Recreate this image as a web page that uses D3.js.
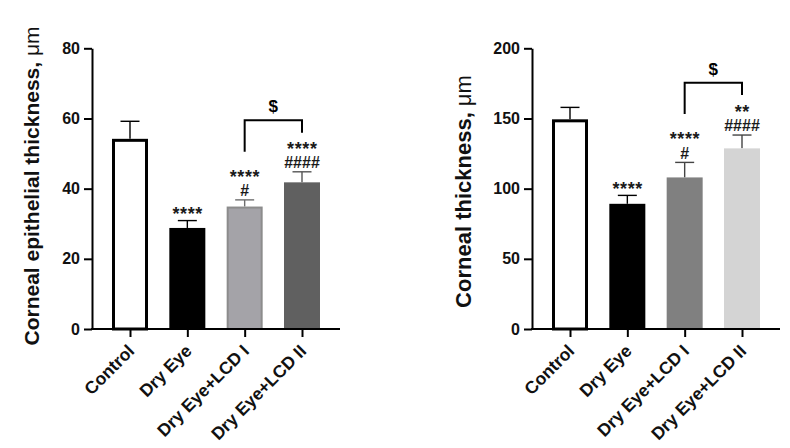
<!DOCTYPE html>
<html><head><meta charset="utf-8">
<script src="https://cdn.jsdelivr.net/npm/d3@7/dist/d3.min.js"></script>
<style>
html,body{margin:0;padding:0;background:#fff;}
svg{display:block;font-family:"Liberation Sans",Arial,Helvetica,sans-serif;}
</style></head>
<body>
<svg id="chart" width="790" height="448"></svg>
<script>
// ---- data ----
const categories = ["Control", "Dry Eye", "Dry Eye+LCD I", "Dry Eye+LCD II"];

const epiTitle = "Corneal epithelial thickness, ";
const epiMeans = [54.2, 28.8, 34.9, 41.8];
const epiErrors = [5.0, 2.1, 1.9, 3.0];
const epiTicks = [0, 20, 40, 60, 80];
const epiMax = 80;
const epiMarks = [[], ["****"], ["****", "#"], ["****", "####"]];
const epiBracket = [59.5, 50.5, 55.9]; // top, left leg end, right leg end
const epiBracketLabel = "$";

const totTitle = "Corneal thickness, ";
const totMeans = [149.4, 89.2, 108.0, 128.7];
const totErrors = [8.5, 6.0, 10.7, 9.5];
const totTicks = [0, 50, 100, 150, 200];
const totMax = 200;
const totMarks = [[], ["****"], ["****", "#"], ["**", "####"]];
const totBracket = [175.4, 153.1, 166.7];
const totBracketLabel = "$";

const unitText = "\u03bcm";

// ---- styles ----
const epiFill = ["#ffffff", "#000000", "#a4a3a8", "#606060"];
const epiStroke = ["#000000", "#000000", "#8c8c8c", "#606060"];
const epiErr = ["#000000", "#000000", "#6e6e6e", "#555555"];
const totFill = ["#ffffff", "#000000", "#808080", "#d4d4d4"];
const totStroke = ["#000000", "#000000", "#808080", "#d4d4d4"];
const totErr = ["#000000", "#000000", "#444444", "#444444"];

const svg = d3.select("#chart");

function panel(o) {
  const g = svg.append("g");
  const y = d3.scaleLinear().domain([0, o.max]).range([o.bottom, o.top]);
  const x = d3.scalePoint().domain(categories).range([o.left + 38, o.left + 210]);
  const barW = 36;

  categories.forEach((c, i) => {
    const sw = i === 0 ? 3 : (o.stroke[i] !== o.fill[i] ? 2 : 0);
    const cx = x(c);
    const e0 = y(o.means[i]), e1 = y(o.means[i] + o.errors[i]);
    g.append("line").attr("x1", cx).attr("x2", cx).attr("y1", e0).attr("y2", e1)
      .attr("stroke", o.err[i]).attr("stroke-width", 1.4);
    g.append("line").attr("x1", cx - 9.5).attr("x2", cx + 9.5).attr("y1", e1).attr("y2", e1)
      .attr("stroke", o.err[i]).attr("stroke-width", 1.4);
    g.append("rect")
      .attr("x", cx - barW / 2 + sw / 2)
      .attr("y", y(o.means[i]) + sw / 2)
      .attr("width", barW - sw)
      .attr("height", y(0) - y(o.means[i]) - sw / 2)
      .attr("fill", o.fill[i])
      .attr("stroke", sw ? o.stroke[i] : "none")
      .attr("stroke-width", sw);
    // significance marks, one text block stacked from the error cap upward
    const marks = o.marks[i];
    if (marks.length) {
      const txt = g.append("text").attr("text-anchor", "middle")
        .attr("font-weight", "bold").attr("fill", "#1a1a1a");
      marks.forEach((m, k) => {
        const fromBottom = marks.length - 1 - k;
        const center = e1 - 9.5 - fromBottom * 16.5;
        const isStar = m.indexOf("*") >= 0;
        const fs = isStar ? 18 : 16;
        txt.append("tspan").attr("x", cx + (isStar ? 0.3 : 0))
          .attr("y", center + (isStar ? 0.49 * fs : 0.35 * fs))
          .attr("font-size", fs)
          .attr("letter-spacing", isStar ? 0.6 : 0)
          .text(m);
      });
    }
  });

  // bracket
  const bl = x(categories[2]), br = x(categories[3]);
  g.append("path")
    .attr("d", d3.line()([[bl, y(o.bracket[1])], [bl, y(o.bracket[0])], [br, y(o.bracket[0])], [br, y(o.bracket[2])]]))
    .attr("fill", "none").attr("stroke", "#000").attr("stroke-width", 2);
  g.append("text").attr("x", (bl + br) / 2).attr("y", y(o.bracket[0]) - 8)
    .attr("text-anchor", "middle").attr("font-size", 17).attr("font-weight", "bold")
    .text(o.bracketLabel);

  // y axis
  const ya = g.append("g").attr("transform", `translate(${o.left},0)`)
    .call(d3.axisLeft(y).tickValues(o.ticks).tickSize(8).tickPadding(4).tickSizeOuter(0));
  ya.select(".domain").attr("stroke-width", 2);
  ya.selectAll(".tick line").attr("stroke-width", 2);
  ya.selectAll(".tick text").attr("font-size", 16).attr("font-weight", "bold")
    .attr("font-family", "Liberation Sans, Arial, sans-serif").attr("fill", "#111");

  // x axis
  const xa = g.append("g").attr("transform", `translate(0,${o.bottom})`)
    .call(d3.axisBottom(x).tickSize(8).tickSizeOuter(0).tickFormat(d => d));
  xa.select(".domain").attr("d", `M${o.left - 1},0H${o.left + 248}`).attr("stroke-width", 2);
  xa.selectAll(".tick line").attr("stroke-width", 2);
  xa.selectAll(".tick text")
    .attr("font-size", 17.5).attr("font-weight", "bold")
    .attr("font-family", "Liberation Sans, Arial, sans-serif").attr("fill", "#111")
    .attr("text-anchor", "end")
    .attr("dy", null).attr("y", null)
    .attr("transform", "translate(5,23) rotate(-45)");

  // y title
  const t = g.append("text")
    .attr("transform", `translate(${o.titleX},${o.titleY}) rotate(-90)`)
    .attr("text-anchor", "middle")
    .attr("font-size", o.titleSize).attr("font-weight", "bold").attr("fill", "#111");
  t.append("tspan").text(o.title);
  t.append("tspan").attr("font-weight", "normal").text(unitText);
}

panel({
  left: 92, top: 48.3, bottom: 329, max: epiMax, ticks: epiTicks,
  means: epiMeans, errors: epiErrors, marks: epiMarks,
  bracket: epiBracket, bracketLabel: epiBracketLabel,
  fill: epiFill, stroke: epiStroke, err: epiErr,
  title: epiTitle, titleX: 39, titleY: 186, titleSize: 21
});
panel({
  left: 532, top: 48.3, bottom: 329, max: totMax, ticks: totTicks,
  means: totMeans, errors: totErrors, marks: totMarks,
  bracket: totBracket, bracketLabel: totBracketLabel,
  fill: totFill, stroke: totStroke, err: totErr,
  title: totTitle, titleX: 470.5, titleY: 191.5, titleSize: 22
});
</script>
</body></html>
